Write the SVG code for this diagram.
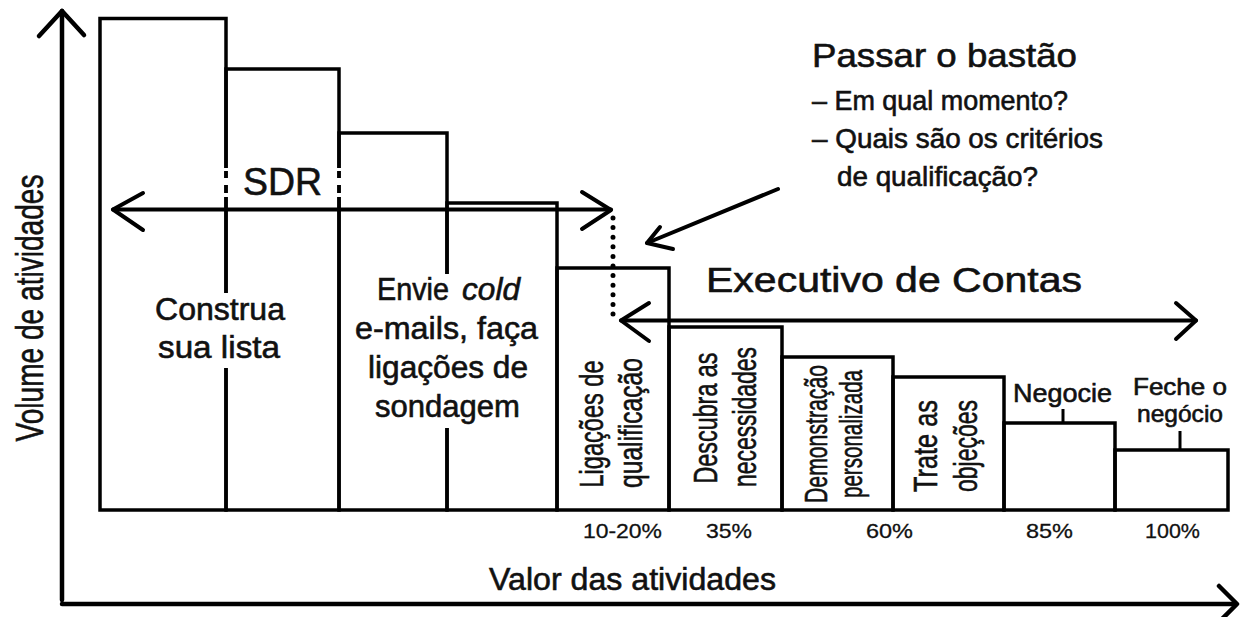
<svg xmlns="http://www.w3.org/2000/svg" width="1241" height="617" viewBox="0 0 1241 617">
<style>
  .bar { fill: none; stroke: #000; stroke-width: 3.5; }
  .ko { fill: #fff; stroke: none; }
  .axis { fill: none; stroke: #000; stroke-width: 4.5; stroke-linecap: round; stroke-linejoin: round; }
  .arr { fill: none; stroke: #000; stroke-width: 4; stroke-linecap: round; stroke-linejoin: round; }
  .dots { fill: none; stroke: #000; stroke-width: 5; stroke-linecap: round; stroke-dasharray: 0 9.6; }
  .tick { stroke: #000; stroke-width: 3; }
  text { font-family: "Liberation Sans", Arial, sans-serif; fill: #111; stroke: #111; stroke-width: 0.6; }
  .lbl { font-size: 31px; }
  .rot { font-size: 34px; text-anchor: middle; }
  .small { font-size: 26px; }
  .pct { font-size: 21px; stroke-width: 0.3; }
</style>
<rect width="1241" height="617" fill="#fff"/>

<g id="axes">
  <path class="axis" d="M62,600 V11"/>
  <path class="axis" d="M39,36 L62,11 L84,35"/>
  <path class="axis" d="M62,604 H1235"/>
  <path class="axis" d="M1219,586 L1237,604 L1219,622"/>
  <text transform="translate(43,308) rotate(-90)" font-size="38" text-anchor="middle" textLength="267" lengthAdjust="spacingAndGlyphs">Volume de atividades</text>
  <text x="489" y="590" font-size="32" textLength="287" lengthAdjust="spacingAndGlyphs">Valor das atividades</text>
</g>

<g id="bar-construa">
  <rect class="bar" x="100" y="18.5" width="126" height="491.5"/>
</g>
<g id="bar-2">
  <rect class="bar" x="226" y="69" width="113" height="441"/>
</g>
<g id="bar-envie">
  <rect class="bar" x="339" y="133" width="108" height="377"/>
</g>
<g id="bar-4">
  <rect class="bar" x="447" y="203" width="110" height="307"/>
</g>
<g id="bar-ligacoes">
  <rect class="bar" x="557" y="268" width="112" height="242"/>
  <text class="rot" transform="translate(603,424) rotate(-90)" textLength="127" lengthAdjust="spacingAndGlyphs">Ligações de</text>
  <text class="rot" transform="translate(642,423) rotate(-90)" textLength="130" lengthAdjust="spacingAndGlyphs">qualificação</text>
</g>
<g id="bar-descubra">
  <rect class="bar" x="669" y="327" width="113" height="183"/>
  <text class="rot" transform="translate(717,418) rotate(-90)" textLength="131" lengthAdjust="spacingAndGlyphs">Descubra as</text>
  <text class="rot" transform="translate(756,417) rotate(-90)" textLength="140" lengthAdjust="spacingAndGlyphs">necessidades</text>
</g>
<g id="bar-demonstracao">
  <rect class="bar" x="782" y="357" width="111" height="153"/>
  <text class="rot" transform="translate(827,434) rotate(-90)" style="font-size:31px" textLength="138" lengthAdjust="spacingAndGlyphs">Demonstração</text>
  <text class="rot" transform="translate(862,434) rotate(-90)" style="font-size:31px" textLength="128" lengthAdjust="spacingAndGlyphs">personalizada</text>
</g>
<g id="bar-trate">
  <rect class="bar" x="893" y="377" width="111" height="133"/>
  <text class="rot" transform="translate(937,446) rotate(-90)" style="font-size:34px" textLength="92" lengthAdjust="spacingAndGlyphs">Trate as</text>
  <text class="rot" transform="translate(977,446) rotate(-90)" style="font-size:34px" textLength="92" lengthAdjust="spacingAndGlyphs">objeções</text>
</g>
<g id="bar-negocie">
  <rect class="bar" x="1004" y="423" width="111" height="87"/>
  <line class="tick" x1="1063" y1="409" x2="1063" y2="423"/>
  <text class="small" x="1013" y="402" textLength="99" lengthAdjust="spacingAndGlyphs">Negocie</text>
</g>
<g id="bar-feche">
  <rect class="bar" x="1115" y="450" width="113" height="60"/>
  <line class="tick" x1="1180" y1="431" x2="1180" y2="450"/>
  <text class="small" x="1133" y="395" style="font-size:24px" textLength="94" lengthAdjust="spacingAndGlyphs">Feche o</text>
  <text class="small" x="1137" y="422" style="font-size:24px" textLength="86" lengthAdjust="spacingAndGlyphs">negócio</text>
</g>

<g id="knockouts">
  <rect class="ko" x="150" y="293" width="140" height="75"/>
  <rect class="ko" x="350" y="274" width="195" height="154"/>
  <rect class="ko" x="222" y="168" width="8" height="3"/>
  <rect class="ko" x="222" y="178" width="8" height="7"/>
  <rect class="ko" x="222" y="193" width="8" height="4"/>
  <rect class="ko" x="335" y="168" width="8" height="3"/>
  <rect class="ko" x="335" y="178" width="8" height="7"/>
  <rect class="ko" x="335" y="193" width="8" height="4"/>
</g>

<g id="label-construa">
  <text class="lbl" x="155" y="320" textLength="130" lengthAdjust="spacingAndGlyphs">Construa</text>
  <text class="lbl" x="158" y="358" textLength="122" lengthAdjust="spacingAndGlyphs">sua lista</text>
</g>
<g id="label-envie">
  <text class="lbl" x="377" y="300" textLength="72" lengthAdjust="spacingAndGlyphs">Envie</text>
  <text class="lbl" x="462" y="300" font-style="italic" textLength="58" lengthAdjust="spacingAndGlyphs">cold</text>
  <text class="lbl" x="355" y="339" textLength="183" lengthAdjust="spacingAndGlyphs">e-mails, faça</text>
  <text class="lbl" x="368" y="378" textLength="160" lengthAdjust="spacingAndGlyphs">ligações de</text>
  <text class="lbl" x="375" y="417" textLength="145" lengthAdjust="spacingAndGlyphs">sondagem</text>
</g>

<g id="percentages">
  <text class="pct" x="583" y="538" textLength="79" lengthAdjust="spacingAndGlyphs">10-20%</text>
  <text class="pct" x="706" y="538" textLength="46" lengthAdjust="spacingAndGlyphs">35%</text>
  <text class="pct" x="866" y="538" textLength="47" lengthAdjust="spacingAndGlyphs">60%</text>
  <text class="pct" x="1026" y="538" textLength="47" lengthAdjust="spacingAndGlyphs">85%</text>
  <text class="pct" x="1145" y="538" textLength="55" lengthAdjust="spacingAndGlyphs">100%</text>
</g>

<g id="sdr">
  <text x="243" y="195" font-size="38" textLength="79" lengthAdjust="spacingAndGlyphs">SDR</text>
</g>
<g id="executivo">
  <text x="706" y="292" font-size="35" textLength="376" lengthAdjust="spacingAndGlyphs">Executivo de Contas</text>
</g>
<g id="passar-bastao">
  <text x="812" y="67" font-size="34" textLength="265" lengthAdjust="spacingAndGlyphs">Passar o bastão</text>
  <text x="812" y="110" font-size="27" textLength="256" lengthAdjust="spacingAndGlyphs">– Em qual momento?</text>
  <text x="812" y="148" font-size="27" textLength="291" lengthAdjust="spacingAndGlyphs">– Quais são os critérios</text>
  <text x="837" y="186" font-size="27" textLength="201" lengthAdjust="spacingAndGlyphs">de qualificação?</text>
</g>

<g id="connectors">
  <path class="arr" d="M113,209.5 H611"/>
  <path class="arr" d="M143,193 L113,209.5 L143,230"/>
  <path class="arr" d="M582,192 L611,210 L582,229"/>
  <path class="dots" d="M613,218 V316"/>
  <path class="arr" d="M621,320.5 H1196"/>
  <path class="arr" d="M649,303 L621,320.5 L649,341"/>
  <path class="arr" d="M1176,303 L1196,320.5 L1176,339"/>
  <path class="arr" d="M778,189 L647,243"/>
  <path class="arr" d="M660,227 L647,243 L673,249"/>
</g>
</svg>
